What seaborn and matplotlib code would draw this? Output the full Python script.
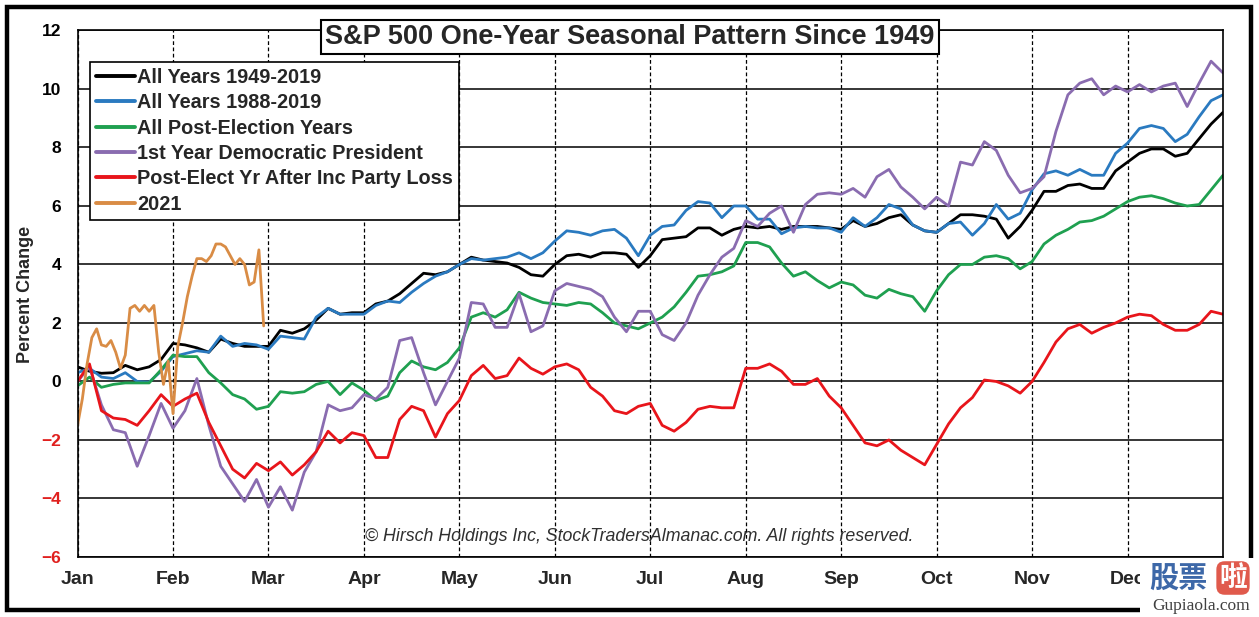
import numpy as np
import pandas as pd
import matplotlib
matplotlib.use("Agg")
import matplotlib.pyplot as plt
import matplotlib.patches as mpatches
import seaborn as sns

# month labels on the x axis, one value every 1/8 month for the seasonal series
MONTHS = ["Jan", "Feb", "Mar", "Apr", "May", "Jun",
          "Jul", "Aug", "Sep", "Oct", "Nov", "Dec"]
STEPS_PER_MONTH = 8
STEPS_2021 = 20

# percent change from start of year
all_years_1949 = [
    0.5, 0.35, 0.28, 0.3, 0.55, 0.4, 0.5, 0.75,
    1.3, 1.25, 1.15, 1.0, 1.45, 1.3, 1.2, 1.2,
    1.2, 1.75, 1.65, 1.8, 2.1, 2.5, 2.3, 2.35,
    2.35, 2.65, 2.75, 3.0, 3.35, 3.7, 3.65, 3.75,
    4.0, 4.25, 4.15, 4.1, 4.05, 3.9, 3.65, 3.6,
    4.0, 4.3, 4.35, 4.25, 4.4, 4.4, 4.35, 3.9,
    4.3, 4.85, 4.9, 4.95, 5.25, 5.25, 5.0, 5.2,
    5.3, 5.25, 5.3, 5.2, 5.3, 5.3, 5.3, 5.25,
    5.2, 5.5, 5.3, 5.4, 5.6, 5.7, 5.35, 5.15,
    5.1, 5.4, 5.7, 5.7, 5.65, 5.55, 4.9, 5.3,
    5.85, 6.5, 6.5, 6.7, 6.75, 6.6, 6.6, 7.2,
    7.5, 7.8, 7.95, 7.95, 7.7, 7.8, 8.3, 8.8,
    9.2,
]
all_years_1988 = [
    0.3, 0.45, 0.15, 0.1, 0.3, 0.0, -0.02, 0.35,
    0.85, 0.95, 1.05, 1.0, 1.55, 1.2, 1.3, 1.25,
    1.1, 1.55, 1.5, 1.45, 2.2, 2.5, 2.3, 2.3,
    2.3, 2.6, 2.75, 2.7, 3.05, 3.35, 3.6, 3.75,
    4.0, 4.2, 4.15, 4.2, 4.25, 4.4, 4.2, 4.4,
    4.8, 5.15, 5.1, 5.0, 5.15, 5.2, 4.9, 4.3,
    5.0, 5.3, 5.35, 5.85, 6.15, 6.1, 5.6, 6.0,
    6.0, 5.55, 5.55, 5.05, 5.25, 5.3, 5.25, 5.25,
    5.1, 5.6, 5.3, 5.6, 6.05, 5.9, 5.35, 5.15,
    5.1, 5.4, 5.45, 5.0, 5.4, 6.05, 5.55, 5.75,
    6.55, 7.1, 7.2, 7.05, 7.25, 7.05, 7.05, 7.8,
    8.15, 8.65, 8.75, 8.65, 8.2, 8.45, 9.05, 9.6,
    9.8,
]
post_election = [
    -0.15, 0.15, -0.2, -0.1, -0.05, -0.05, -0.05, 0.4,
    0.9, 0.85, 0.85, 0.3, -0.05, -0.45, -0.6, -0.95,
    -0.85, -0.35, -0.4, -0.35, -0.1, 0.0, -0.45, -0.05,
    -0.3, -0.65, -0.5, 0.3, 0.7, 0.5, 0.4, 0.65,
    1.15, 2.2, 2.35, 2.2, 2.45, 3.05, 2.85, 2.7,
    2.65, 2.6, 2.7, 2.65, 2.35, 2.0, 1.9, 1.8,
    2.0, 2.2, 2.55, 3.05, 3.6, 3.65, 3.75, 3.95,
    4.75, 4.75, 4.6, 4.05, 3.6, 3.75, 3.45, 3.2,
    3.4, 3.3, 2.95, 2.85, 3.15, 3.0, 2.9, 2.4,
    3.1, 3.65, 4.0, 4.0, 4.25, 4.3, 4.2, 3.85,
    4.1, 4.7, 5.0, 5.2, 5.45, 5.5, 5.65, 5.9,
    6.15, 6.3, 6.35, 6.25, 6.1, 6.0, 6.05, 6.55,
    7.05,
]
first_year_dem = [
    0.0, 0.5, -0.8, -1.65, -1.75, -2.9, -1.85, -0.75,
    -1.6, -1.0, 0.1, -1.5, -2.9, -3.5, -4.1, -3.35,
    -4.3, -3.6, -4.4, -3.1, -2.4, -0.8, -1.0, -0.9,
    -0.45, -0.6, -0.2, 1.4, 1.5, 0.3, -0.8, 0.0,
    0.8, 2.7, 2.65, 1.85, 1.85, 3.0, 1.7, 1.9,
    3.1, 3.35, 3.25, 3.15, 2.9, 2.2, 1.7, 2.4,
    2.4, 1.6, 1.4, 2.0, 2.95, 3.65, 4.25, 4.55,
    5.5, 5.3, 5.75, 6.0, 5.1, 6.05, 6.4, 6.45,
    6.4, 6.6, 6.3, 7.0, 7.25, 6.65, 6.3, 5.9,
    6.3, 6.0, 7.5, 7.4, 8.2, 7.9, 7.05, 6.45,
    6.6, 7.0, 8.55, 9.8, 10.2, 10.35, 9.8, 10.1,
    9.9, 10.15, 9.9, 10.1, 10.2, 9.4, 10.2, 10.95,
    10.55,
]
party_loss = [
    0.0, 0.6, -1.0, -1.25, -1.3, -1.5, -1.0, -0.45,
    -0.85, -0.6, -0.4, -1.4, -2.2, -3.0, -3.3, -2.8,
    -3.05, -2.75, -3.2, -2.85, -2.4, -1.7, -2.1, -1.75,
    -1.85, -2.6, -2.6, -1.3, -0.85, -1.0, -1.9, -1.1,
    -0.65, 0.2, 0.55, 0.1, 0.2, 0.8, 0.45, 0.25,
    0.5, 0.6, 0.4, -0.2, -0.5, -1.0, -1.1, -0.85,
    -0.75, -1.5, -1.7, -1.4, -0.95, -0.85, -0.9, -0.9,
    0.45, 0.45, 0.6, 0.35, -0.1, -0.1, 0.1, -0.5,
    -0.9, -1.5, -2.1, -2.2, -2.0, -2.35, -2.6, -2.85,
    -2.15, -1.45, -0.9, -0.55, 0.05, 0.0, -0.15, -0.4,
    0.0, 0.65, 1.35, 1.8, 1.95, 1.65, 1.85, 2.0,
    2.2, 2.3, 2.25, 1.95, 1.75, 1.75, 1.95, 2.4,
    2.3,
]
# 2021 year to date, one value every 1/20 month
ytd_2021 = [
    -1.5, -0.6, 0.6, 1.5, 1.8, 1.25, 1.2, 1.4, 1.0, 0.45,
    0.9, 2.5, 2.6, 2.4, 2.6, 2.4, 2.6, 1.0, -0.1, 0.7,
    -1.1, 1.2, 2.0, 2.9, 3.6, 4.2, 4.2, 4.1, 4.3, 4.7,
    4.7, 4.6, 4.3, 4.0, 4.2, 4.0, 3.3, 3.4, 4.5, 1.9,
]

LABELS = [
    "All Years 1949-2019",
    "All Years 1988-2019",
    "All Post-Election Years",
    "1st Year Democratic President",
    "Post-Elect Yr After Inc Party Loss",
    "2021",
]
COLOURS = ["#000000", "#2a7ac0", "#1fa050", "#8a6cb0", "#e8151b", "#d98c45"]

seasonal = [all_years_1949, all_years_1988, post_election,
            first_year_dem, party_loss]
frames = []
for name, vals in zip(LABELS[:5], seasonal):
    frames.append(pd.DataFrame({
        "month": np.arange(len(vals)) / STEPS_PER_MONTH,
        "pct": vals,
        "series": name,
    }))
frames.append(pd.DataFrame({
    "month": np.arange(len(ytd_2021)) / STEPS_2021,
    "pct": ytd_2021,
    "series": LABELS[5],
}))
df = pd.concat(frames, ignore_index=True)

sns.set_theme(style="white")
plt.rcParams["font.family"] = ["Liberation Sans", "DejaVu Sans"]

fig = plt.figure(figsize=(12.59, 6.17), dpi=100)
ax = fig.add_axes([0.0616, 0.0973, 0.9098, 0.8533])

sns.lineplot(
    data=df,
    x="month",
    y="pct",
    hue="series",
    hue_order=LABELS,
    palette=COLOURS,
    linewidth=2.0,
    errorbar=None,
    estimator=None,
    sort=False,
    ax=ax,
)

ax.set_xlim(0, 12)
ax.set_ylim(-6, 12)
ax.set_xticks(range(12))
ax.set_xticklabels(MONTHS, fontsize=14, fontweight="bold")
yvals = list(range(-6, 13, 2))
ax.set_yticks(yvals)
ax.set_yticklabels([str(v).replace("-", "\u2212") for v in yvals],
                   fontsize=12.5, fontweight="bold")
for lbl, v in zip(ax.get_yticklabels(), yvals):
    lbl.set_color("#e0201e" if v < 0 else "black")
ax.tick_params(axis="both", length=0)
ax.tick_params(axis="x", pad=10)
ax.tick_params(axis="y", pad=12)
ax.set_xlabel("")
ax.set_ylabel("")

ax.yaxis.grid(True, color="black", linewidth=1.1)
ax.xaxis.grid(True, color="black", linewidth=0.9, linestyle=(0, (3, 2)))
ax.set_axisbelow(True)
for sp in ax.spines.values():
    sp.set_color("black")
    sp.set_linewidth(1.2)

handles, labels = ax.get_legend_handles_labels()
for h in handles:
    h.set_linewidth(2.8)
leg = ax.legend(
    handles, labels,
    loc="upper left",
    bbox_to_anchor=(0.0105, 0.940),
    borderaxespad=0,
    fancybox=False,
    framealpha=1,
    edgecolor="black",
    handlelength=2.0,
    handletextpad=0.1,
    labelspacing=0.32,
    borderpad=0.3,
    prop={"weight": "bold", "size": 14.3},
)
leg.get_frame().set_linewidth(1.2)

ax.text(0.49, 0.038,
        "\u00a9 Hirsch Holdings Inc, StockTradersAlmanac.com. All rights reserved.",
        transform=ax.transAxes, ha="center", va="center",
        fontsize=12.8, style="italic", color="#303030")

fig.text(25 / 1259, 0.5235, "Percent Change", rotation=90,
         ha="center", va="center", fontsize=13, fontweight="bold")

fig.text(630 / 1259, 1 - 37 / 617,
         "S&P 500 One-Year Seasonal Pattern Since 1949",
         ha="center", va="center", fontsize=19.5, fontweight="bold",
         zorder=10,
         bbox=dict(boxstyle="square,pad=0.15", fc="white", ec="black", lw=1.5))

# outer frame
fig.add_artist(mpatches.Rectangle(
    (7 / 1259, 7 / 617), 1244 / 1259, 603 / 617,
    transform=fig.transFigure, fill=False, ec="black", lw=3.2))

# site watermark in the bottom right corner
fig.add_artist(mpatches.Rectangle(
    (1140 / 1259, 0), 119 / 1259, 59 / 617,
    transform=fig.transFigure, fc="white", ec="none", zorder=20))
fig.text(1178 / 1259, 1 - 578 / 617, "股票", ha="center", va="center",
         fontsize=21, fontweight="bold", color="#3d68a8",
         family=["Noto Sans CJK SC", "DejaVu Sans"], zorder=21)
fig.text(1233 / 1259, 1 - 578 / 617, "啦", ha="center", va="center",
         fontsize=20, fontweight="bold", color="white",
         family=["Noto Sans CJK SC", "DejaVu Sans"], zorder=21,
         bbox=dict(boxstyle="round,pad=0.1,rounding_size=0.3",
                   fc="#e05a4c", ec="none"))
fig.text(1201 / 1259, 1 - 606 / 617, "Gupiaola.com", ha="center", va="center",
         fontsize=12.5, color="#404040", family=["Liberation Serif", "DejaVu Serif"],
         zorder=21)

plt.savefig("out.png", dpi=100)
